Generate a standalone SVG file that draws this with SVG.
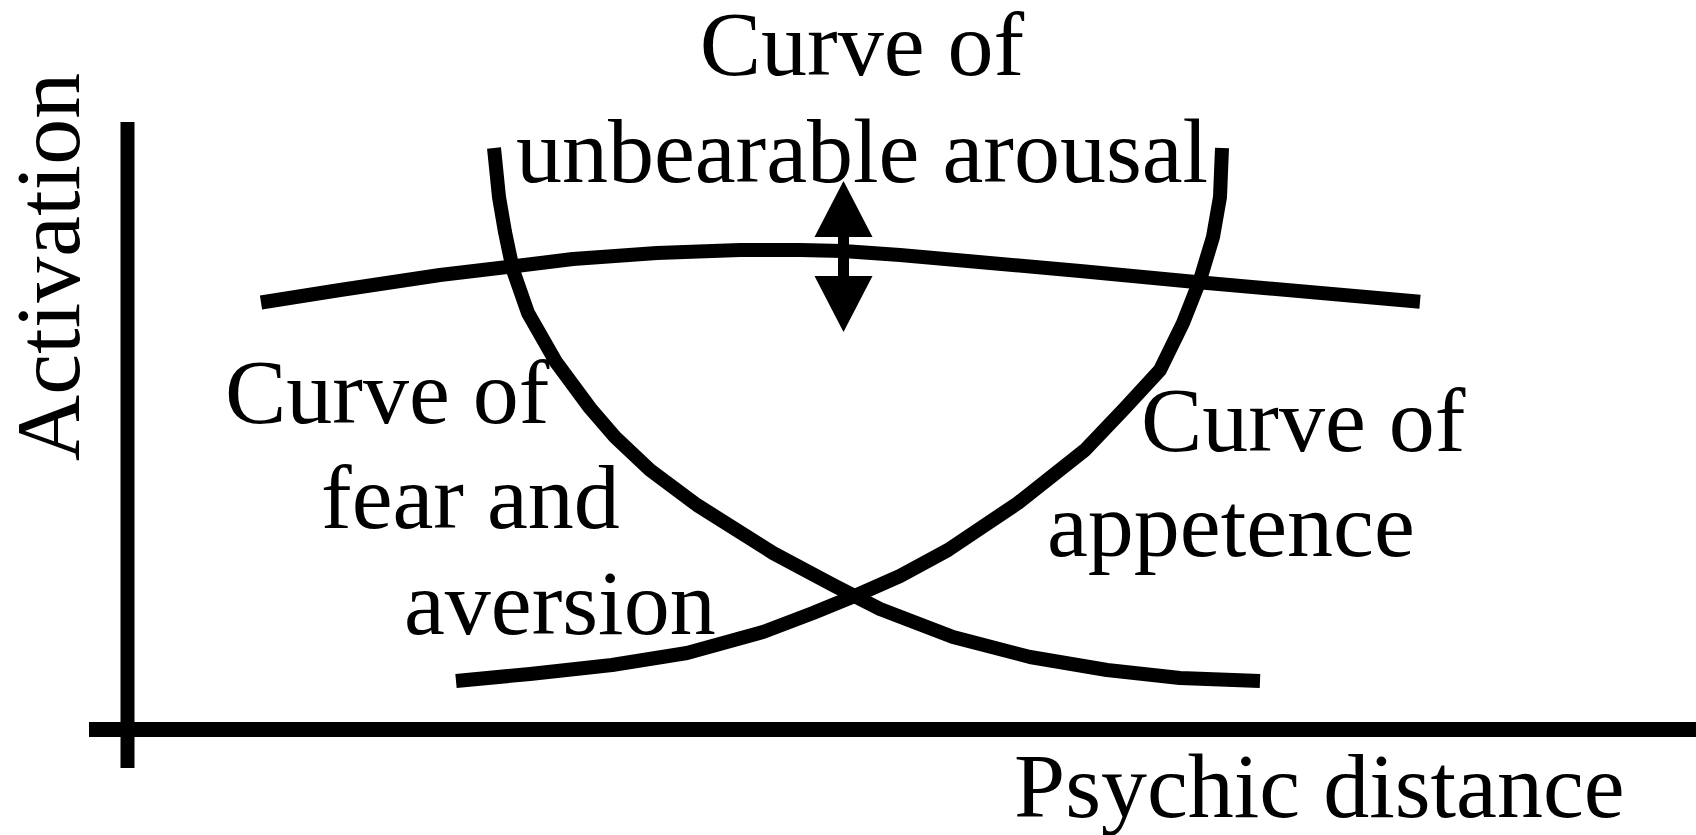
<svg xmlns="http://www.w3.org/2000/svg" width="1696" height="835" viewBox="0 0 1696 835">
  <style>
    .lbl { font-family: "Liberation Serif", "Times New Roman", serif; font-size: 92px; fill: #000; }
    .axis { stroke: #000; fill: none; stroke-linecap: butt; }
    .curve { stroke: #000; fill: none; stroke-width: 14; stroke-linecap: butt; stroke-linejoin: round; }
  </style>
  <defs>
    <marker id="tri" markerUnits="userSpaceOnUse" markerWidth="60" markerHeight="60" refX="0" refY="30" orient="auto-start-reverse" overflow="visible">
      <path d="M0,1 L56,30 L0,59 Z" fill="#000"/>
    </marker>
  </defs>
  <rect width="1696" height="835" fill="#fff"/>

  <g id="axes">
    <line class="axis" x1="127.5" y1="122" x2="127.5" y2="768" stroke-width="14"/>
    <line class="axis" x1="89" y1="729.5" x2="1696" y2="729.5" stroke-width="15"/>
  </g>

  <g id="curves">
    <path id="curve-arousal" class="curve" stroke-width="15" d="M261,302.5 L340,290 L440,275 L510,266.7 L573,259 L657,253 L740,250 L800,250 L843,251 L900,255 L1080,271 L1193,281.7 L1420,301.7"/>
    <path id="curve-fear" class="curve" d="M494,148 L499,197 L505,232 L513,270 L528,313 L556,362 L590,408 L615,437 L650,470 L697,505 L773,553 L833,585 L880,609 L953,637 L1030,657 L1107,670 L1180,678 L1260,681"/>
    <path id="curve-appetence" class="curve" d="M456,681 L530,674 L612,665 L687,653 L763,632 L813,613 L857,595 L900,576 L948,550 L1018,503 L1085,450 L1125,408 L1160,370 L1183,323 L1200,280 L1213,237 L1220,197 L1222,148"/>
  </g>

  <g id="connectors">
    <line x1="843.5" y1="237" x2="843.5" y2="276" stroke="#000" stroke-width="11" marker-start="url(#tri)" marker-end="url(#tri)"/>
  </g>

  <g id="label-activation">
    <text class="lbl" text-anchor="middle" transform="translate(79,267) rotate(-90)">Activation</text>
  </g>
  <g id="label-distance">
    <text class="lbl" x="1014" y="817">Psychic distance</text>
  </g>
  <g id="label-arousal">
    <text class="lbl" text-anchor="middle" x="862" y="75">Curve of</text>
    <text class="lbl" text-anchor="middle" x="862" y="182">unbearable arousal</text>
  </g>
  <g id="label-fear">
    <text class="lbl" x="225" y="423">Curve of</text>
    <text class="lbl" x="321" y="528">fear and</text>
    <text class="lbl" x="404" y="634">aversion</text>
  </g>
  <g id="label-appetence">
    <text class="lbl" x="1141" y="451">Curve of</text>
    <text class="lbl" x="1047" y="556">appetence</text>
  </g>
</svg>
